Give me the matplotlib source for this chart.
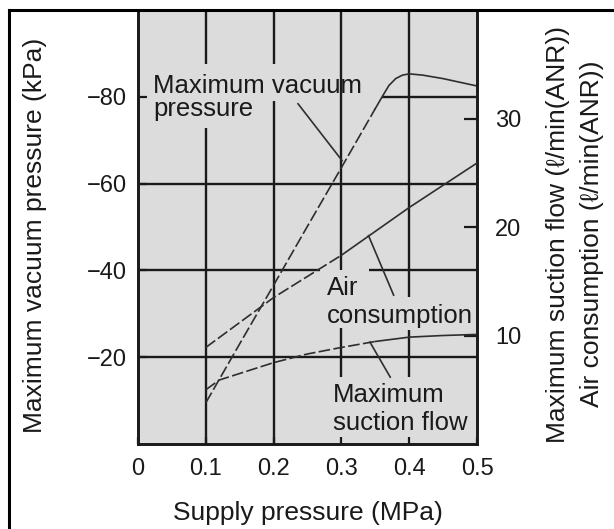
import numpy as np
import matplotlib
matplotlib.use("Agg")
import matplotlib.pyplot as plt
from matplotlib.lines import Line2D

plt.rcParams['font.family'] = ['Liberation Sans', 'DejaVu Sans']

# ---------------------------------------------------------
# Donnees
# ---------------------------------------------------------
# pression de vide maximale (kPa) vs pression d'alimentation (MPa)
p_vide = np.array([0.10, 0.15, 0.20, 0.25, 0.30, 0.35, 0.36, 0.37, 0.38, 0.39, 0.40, 0.42, 0.45, 0.50])
vide = np.array([-9.5, -23.1, -36.6, -50.2, -63.7, -77.3, -80.0, -82.6, -84.2, -85.0, -85.3, -85.0, -84.2, -82.5])

# consommation d'air (l/min ANR)
p_air = np.array([0.10, 0.20, 0.30, 0.40, 0.50])
air = np.array([8.9, 13.5, 17.4, 21.8, 25.9])

# debit d'aspiration maximal (l/min ANR)
p_aspi = np.array([0.10, 0.12, 0.15, 0.20, 0.25, 0.30, 0.35, 0.40, 0.45, 0.50])
aspi = np.array([5.0, 5.9, 6.5, 7.5, 8.3, 8.9, 9.45, 9.85, 10.0, 10.1])

x_ticks = [0, 0.1, 0.2, 0.3, 0.4, 0.5]
x_labels = ["0", "0.1", "0.2", "0.3", "0.4", "0.5"]
vide_ticks = [-80, -60, -40, -20]
vide_labels = ["\u221280", "\u221260", "\u221240", "\u221220"]
debit_ticks = [10, 20, 30]
debit_labels = ["10", "20", "30"]

NOIR = "#1a1a1a"
COURBE = "#2e2e2e"
FOND = "#dcdcdc"
FS = 18.5

# ---------------------------------------------------------
# Figure et axes
# ---------------------------------------------------------
fig = plt.figure(figsize=(6.14, 5.29), dpi=100)
ax = fig.add_axes([0.2248, 0.1607, 0.5521, 0.8203])
ax.set_facecolor(FOND)
ax.set_xlim(0, 0.5)
ax.set_ylim(0, -100)

ax2 = ax.twinx()
ax2.set_ylim(0, 40)

for a in (ax, ax2):
    for s in a.spines.values():
        s.set_linewidth(1.9)
        s.set_color(NOIR)

ax.set_xticks(x_ticks)
ax.set_xticklabels(x_labels)
ax.set_yticks(vide_ticks)
ax.set_yticklabels(vide_labels)
ax.tick_params(axis="x", direction="in", length=5, width=1.6, pad=10, labelsize=17, colors=NOIR)
ax.tick_params(axis="y", direction="in", length=6.5, width=1.6, pad=8, labelsize=17, colors=NOIR)
ax2.set_yticks(debit_ticks)
ax2.set_yticklabels(debit_labels)
ax2.tick_params(axis="y", direction="in", length=9.5, width=1.6, pad=13, labelsize=17, colors=NOIR)

# grille interrompue sous les textes
grille_v = [
    (0.1, [(-100, -87.6), (-72.9, 0)]),
    (0.2, [(-100, -87.6), (-79.1, 0)]),
    (0.3, [(-100, -40.0), (-26.7, -15.4)]),
    (0.4, [(-100, -33.8), (-26.2, -15.4)]),
]
grille_h = [
    (-80, [(0.36, 0.5)]),
    (-60, [(0, 0.5)]),
    (-40, [(0, 0.268), (0.34, 0.5)]),
    (-20, [(0, 0.5)]),
]
for xv, segs in grille_v:
    for y0, y1 in segs:
        ax.plot([xv, xv], [y0, y1], color=NOIR, lw=1.7, zorder=1, solid_capstyle="butt")
for yv, segs in grille_h:
    for x0, x1 in segs:
        ax.plot([x0, x1], [yv, yv], color=NOIR, lw=1.7, zorder=1, solid_capstyle="butt")

# ---------------------------------------------------------
# Courbes (tirets dans la partie basse, trait plein ensuite)
# ---------------------------------------------------------
def courbe(axe, x, y, seuil):
    m1 = x <= seuil + 1e-9
    m2 = x >= seuil - 1e-9
    axe.plot(x[m1], y[m1], color=COURBE, lw=1.2, ls=(0, (7, 2)), zorder=3)
    axe.plot(x[m2], y[m2], color=COURBE, lw=1.2, zorder=3)

courbe(ax, p_vide, vide, 0.35)
courbe(ax2, p_air, air, 0.30)
courbe(ax2, p_aspi, aspi, 0.35)

# lignes de rappel
ax.plot([0.236, 0.301], [-78.4, -65.3], color=COURBE, lw=1.2, zorder=3)
ax.plot([0.340, 0.377], [-48.0, -34.3], color=COURBE, lw=1.2, zorder=3)
ax.plot([0.342, 0.372], [-23.5, -15.4], color=COURBE, lw=1.2, zorder=3)

# textes dans le graphique
textes = [
    ("Maximum vacuum", 0.0221, -80.9),
    ("pressure", 0.0221, -75.6),
    ("Air", 0.2788, -34.3),
    ("consumption", 0.2788, -27.8),
    ("Maximum", 0.2876, -9.7),
    ("suction flow", 0.2876, -3.2),
]
for t, xt, yt in textes:
    ax.text(xt, yt, t, fontsize=FS, color=NOIR, ha="left", va="baseline", zorder=4)

# titres des axes
fig.text(0.057, 0.556, "Maximum vacuum pressure (kPa)", rotation=90,
         ha="center", va="center", fontsize=19, color=NOIR)
fig.text(0.5016, 0.030, "Supply pressure (MPa)", ha="center", va="center",
         fontsize=19, color=NOIR)
fig.text(0.909, 0.556, "Maximum suction flow (\u2113/min(ANR))", rotation=90,
         ha="center", va="center", fontsize=19, color=NOIR)
fig.text(0.964, 0.558, "Air consumption (\u2113/min(ANR))", rotation=90,
         ha="center", va="center", fontsize=19, color=NOIR)

# cadre exterieur
y_haut = 1 - 10 / 529
x_gauche = 9 / 614
fig.add_artist(Line2D([x_gauche, 1], [y_haut, y_haut], color="black", lw=2.2, transform=fig.transFigure))
fig.add_artist(Line2D([x_gauche, x_gauche], [0, y_haut], color="black", lw=2.2, transform=fig.transFigure))

fig.savefig("out.png", dpi=100)
